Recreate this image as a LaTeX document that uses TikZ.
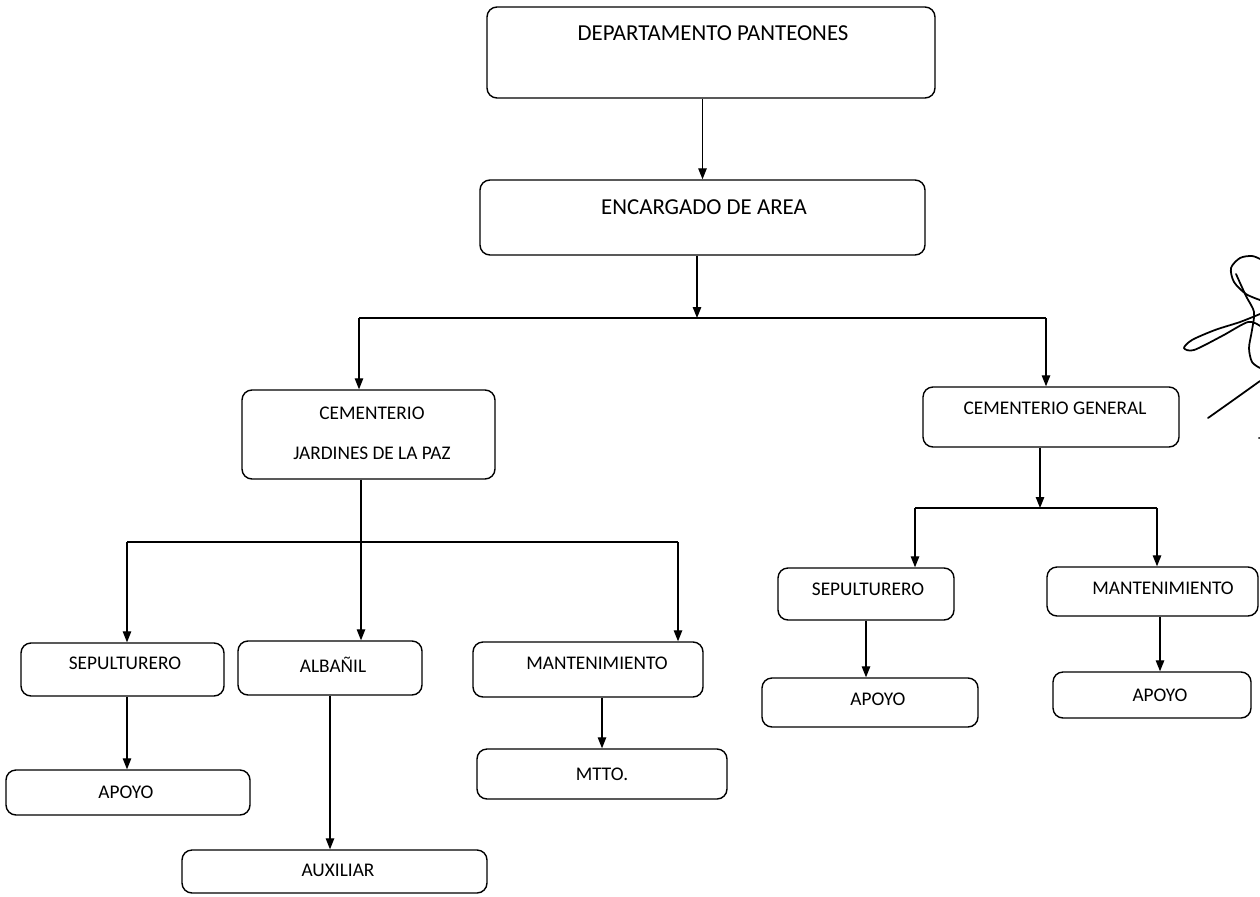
\documentclass[tikz,border=0pt]{standalone}
\usepackage{fontspec}
\setmainfont{Carlito}
\usetikzlibrary{arrows.meta,fit}

\begin{document}
\begin{tikzpicture}[x=0.02cm,y=-0.02cm,
    box/.style={draw,line width=0.8pt,rounded corners=0.2cm,inner sep=0pt},
    bigtxt/.style={font=\fontsize{13}{15}\selectfont},
    txt/.style={font=\fontsize{11}{13}\selectfont},
    line/.style={line width=0.7pt},
    arr/.style={line width=0.7pt,-{Triangle[width=0.17cm,length=0.22cm]}}]
    \useasboundingbox (0,0) rectangle (1260,896);

    % top
    \node [box,fit={(487,7) (935,98)}] (dept) {};
    \node [bigtxt] (deptt) at (713,33) {DEPARTAMENTO PANTEONES};
    \node [box,fit={(480,180) (925,255)}] (enc) {};
    \node [bigtxt] (enct) at (704,207) {ENCARGADO DE AREA};

    % cementerios
    \node [box,fit={(242,390) (495,479)}] (cjp) {};
    \node [txt,align=center,font=\fontsize{11}{22.7}\selectfont] (cjpt) at (372,433) {CEMENTERIO\\JARDINES DE LA PAZ};
    \node [box,fit={(923,387) (1179,447)}] (cg) {};
    \node [txt] (cgt) at (1055,408) {CEMENTERIO GENERAL};

    % jardines de la paz
    \node [box,fit={(21,643) (224,696)}] (sepl) {};
    \node [txt] (seplt) at (125,663) {SEPULTURERO};
    \node [box,fit={(238,641) (422,695)}] (alb) {};
    \node [txt] (albt) at (333,665) {ALBAÑIL};
    \node [box,fit={(473,642) (703,697)}] (mantl) {};
    \node [txt] (mantlt) at (597,663) {MANTENIMIENTO};
    \node [box,fit={(6,770) (250,815)}] (apoyol) {};
    \node [txt] (apoyolt) at (126,792) {APOYO};
    \node [box,fit={(182,850) (487,893)}] (aux) {};
    \node [txt] (auxt) at (338,870) {AUXILIAR};
    \node [box,fit={(477,749) (727,799)}] (mtto) {};
    \node [txt] (mttot) at (602,774) {MTTO.};

    % general
    \node [box,fit={(778,568) (954,620)}] (sepr) {};
    \node [txt] (seprt) at (868,589) {SEPULTURERO};
    \node [box,fit={(1047,567) (1258,616)}] (mantr) {};
    \node [txt] (mantrt) at (1163,588) {MANTENIMIENTO};
    \node [box,fit={(762,678) (978,727)}] (apoyosr) {};
    \node [txt] (apoyosrt) at (878,699) {APOYO};
    \node [box,fit={(1053,672) (1251,718)}] (apoyomr) {};
    \node [txt] (apoyomrt) at (1160,695) {APOYO};

    % branch points
    \coordinate (b1) at (697,318);
    \coordinate (b1l) at (359,318);
    \coordinate (b1r) at (1046,318);
    \coordinate (b2) at (361,542);
    \coordinate (b2l) at (127,542);
    \coordinate (b2r) at (678,542);
    \coordinate (b3) at (1040,508);
    \coordinate (b3l) at (915,508);
    \coordinate (b3r) at (1157,508);

    \draw [arr] (dept.south -| enc.north) -- (enc.north);
    \draw [arr] (enc.south -| b1) -- (b1);
    \draw [line] (b1l) -- (b1r);
    \draw [arr] (b1l) -- (b1l |- cjp.north);
    \draw [arr] (b1r) -- (b1r |- cg.north);

    \draw [line] (b2l) -- (b2r);
    \draw [arr] (b2 |- cjp.south) -- (b2 |- alb.north);
    \draw [arr] (b2l) -- (b2l |- sepl.north);
    \draw [arr] (b2r) -- (b2r |- mantl.north);
    \draw [arr] (sepl.south -| b2l) -- (apoyol.north -| b2l);
    \draw [arr] (alb.south) -- (alb.south |- aux.north);
    \draw [arr] (mtto.north |- mantl.south) -- (mtto.north);

    \draw [arr] (cg.south -| b3) -- (b3);
    \draw [line] (b3l) -- (b3r);
    \draw [arr] (b3l) -- (b3l |- sepr.north);
    \draw [arr] (b3r) -- (b3r |- mantr.north);
    \draw [arr] (sepr.south) -- (sepr.south |- apoyosr.north);
    \draw [arr] ([xshift=0.15cm]mantr.south) -- ([xshift=0.15cm]mantr.south |- apoyomr.north);

    % firma
    \draw [line width=1pt,line cap=round] plot [smooth] coordinates {(1260,300) (1246,294) (1234,282) (1231,268) (1240,258) (1252,256) (1260,259)};
    \draw [line width=1pt,line cap=round] plot [smooth] coordinates {(1236,274) (1246,296) (1254,312) (1252,330) (1249,348) (1252,362) (1260,368)};
    \draw [line width=1pt,line cap=round] plot [smooth] coordinates {(1260,314) (1240,322) (1215,330) (1192,340) (1184,348) (1194,350) (1222,336) (1248,322) (1260,326)};
    \draw [line width=1pt,line cap=round] plot [smooth] coordinates {(1208,418) (1232,401) (1260,381)};
    \fill (1259,438) circle (1);
\end{tikzpicture}
\end{document}
